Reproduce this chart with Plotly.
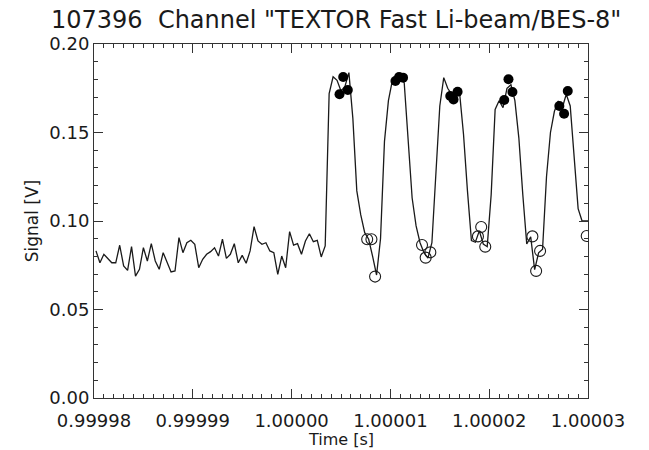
import numpy as np
import plotly.graph_objects as go

# ---------------- data ----------------
TIME_START = 0.9999802      # s, first sample
SAMPLE_INTERVAL = 0.4e-6    # s, digitizer sampling interval

signal_values = [
    # baseline noise before beam switch-on
    0.0831, 0.0764, 0.0812, 0.0789, 0.0764, 0.0764, 0.0863, 0.0746, 0.0721, 0.0855,
    0.0689, 0.0727, 0.0849, 0.0774, 0.0872, 0.0774, 0.0727, 0.0821, 0.0764, 0.0712,
    0.0718, 0.0906, 0.0821, 0.0877, 0.0891, 0.0868, 0.0736, 0.0784, 0.0812, 0.0827,
    0.0849, 0.0802, 0.0897, 0.0789, 0.0812, 0.0872, 0.0764, 0.0806, 0.0761, 0.0831,
    0.0968, 0.0887, 0.0868, 0.0877, 0.0831, 0.0821, 0.0699, 0.0802, 0.0736, 0.0940,
    0.0864, 0.0872, 0.0812, 0.0887, 0.0928, 0.0883, 0.0891, 0.0797, 0.0859,
    # chopped beam pulses
    0.1720, 0.1815, 0.1795, 0.1735, 0.1760, 0.1838, 0.1580, 0.1170, 0.1034, 0.0934,
    0.0897, 0.0800, 0.0695, 0.0900, 0.1450, 0.1680, 0.1795, 0.1815, 0.1825, 0.1780,
    0.1480, 0.1130, 0.0972, 0.0877, 0.0821, 0.0790, 0.0877, 0.1230, 0.1650, 0.1810,
    0.1750, 0.1716, 0.1697, 0.1725, 0.1490, 0.1170, 0.0890, 0.0880, 0.0944, 0.0870,
    0.0855, 0.1150, 0.1630, 0.1680, 0.1640, 0.1750, 0.1770, 0.1680, 0.1470, 0.1150,
    0.0870, 0.0910, 0.0725, 0.0820, 0.0840, 0.1250, 0.1500, 0.1620, 0.1678, 0.1640,
    0.1716, 0.1650, 0.1340, 0.1070, 0.1000, 0.1000, 0.1000,
]

beam_on_times = [1.00000485, 1.00000522, 1.00000569,
                 1.00001051, 1.00001088, 1.00001128,
                 1.00001606, 1.00001639, 1.00001680,
                 1.00002152, 1.00002195, 1.00002235,
                 1.00002710, 1.00002758, 1.00002795]
beam_on_values = [0.1716, 0.1814, 0.1740,
                  0.1791, 0.1814, 0.1810,
                  0.1706, 0.1686, 0.1730,
                  0.1684, 0.1801, 0.1729,
                  0.1650, 0.1606, 0.1734]

beam_off_times = [1.00000765, 1.00000808, 1.00000845,
                  1.00001320, 1.00001357, 1.00001404,
                  1.00001886, 1.00001919, 1.00001960,
                  1.00002437, 1.00002475, 1.00002515,
                  1.00002987]
beam_off_values = [0.0897, 0.0897, 0.0686,
                   0.0864, 0.0793, 0.0823,
                   0.0913, 0.0966, 0.0855,
                   0.0913, 0.0718, 0.0831,
                   0.0915]

x_tick_values = [0.99998, 0.99999, 1.00000, 1.00001, 1.00002, 1.00003]
x_tick_labels = ["0.99998", "0.99999", "1.00000", "1.00001", "1.00002", "1.00003"]
y_tick_values = [0.00, 0.05, 0.10, 0.15, 0.20]
y_tick_labels = ["0.00", "0.05", "0.10", "0.15", "0.20"]

title_text = '107396  Channel "TEXTOR Fast Li-beam/BES-8"'
x_title = "Time [s]"
y_title = "Signal [V]"

# ---------------- figure ----------------
time_axis = TIME_START + SAMPLE_INTERVAL * np.arange(len(signal_values))

INK = "#1a1a1a"
FONT = "DejaVu Sans"

fig = go.Figure()
fig.add_trace(go.Scatter(x=time_axis, y=signal_values, mode="lines",
                         line=dict(color=INK, width=1.3), hoverinfo="skip"))
fig.add_trace(go.Scatter(x=beam_off_times, y=beam_off_values, mode="markers",
                         marker=dict(symbol="circle-open", size=11,
                                     color=INK, line=dict(width=1.1, color=INK))))
fig.add_trace(go.Scatter(x=beam_on_times, y=beam_on_values, mode="markers",
                         marker=dict(symbol="circle", size=10, color="black",
                                     line=dict(width=0))))

axis_common = dict(
    showline=True, linecolor="#333", linewidth=1, mirror="allticks",
    ticks="inside", ticklen=9, tickwidth=1, tickcolor="#333",
    showgrid=False, zeroline=False, automargin=False,
    tickfont=dict(family=FONT, size=18, color=INK),
)

fig.update_xaxes(
    range=[x_tick_values[0], x_tick_values[-1]],
    tickmode="array", tickvals=x_tick_values, ticktext=x_tick_labels,
    ticklabelstandoff=6,
    minor=dict(ticks="inside", ticklen=4, tickcolor="#333", tickwidth=1,
               tick0=x_tick_values[0], dtick=1e-6, showgrid=False),
    **axis_common,
)
fig.update_yaxes(
    range=[y_tick_values[0], y_tick_values[-1]],
    tickmode="array", tickvals=y_tick_values, ticktext=y_tick_labels,
    minor=dict(ticks="inside", ticklen=4, tickcolor="#333", tickwidth=1,
               tick0=0, dtick=0.01, showgrid=False),
    title=dict(text=y_title, font=dict(family=FONT, size=17, color=INK), standoff=6),
    **axis_common,
)

fig.add_annotation(text=x_title, xref="paper", yref="paper", x=0.5,
                   y=(398 - 450) / 354, xanchor="center", yanchor="bottom",
                   showarrow=False, borderpad=0,
                   font=dict(family=FONT, size=16, color=INK))

fig.update_layout(
    width=649, height=450,
    margin=dict(l=94, r=61, t=44, b=52),
    paper_bgcolor="white", plot_bgcolor="white",
    showlegend=False,
    title=dict(text=title_text, x=0.518, xanchor="center",
               y=1 - 20 / 450, yanchor="middle", yref="container",
               font=dict(family=FONT, size=24, color=INK)),
)

fig.write_html("out.html")
